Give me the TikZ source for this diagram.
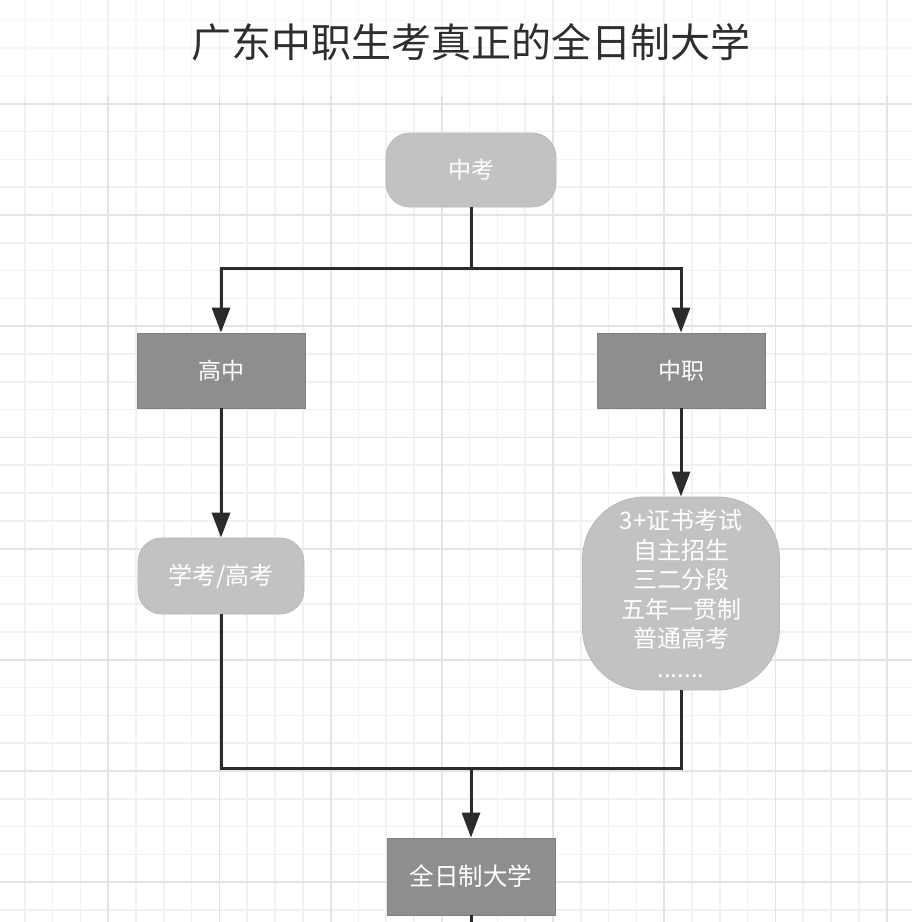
\documentclass[tikz,border=0pt]{standalone}
\usepackage{fontspec}
\setmainfont{Noto Sans CJK SC}
\usetikzlibrary{arrows.meta}
\definecolor{darkfill}{HTML}{8E8E8E}
\definecolor{lightfill}{HTML}{C2C2C2}
\definecolor{linecol}{HTML}{2B2B2B}
\definecolor{minorgrid}{HTML}{F1F1F1}
\definecolor{majorgrid}{HTML}{E4E4E4}
\definecolor{titlecol}{HTML}{2E2E2E}
\tikzset{
  darkbox/.style={draw=darkfill!90!black, line width=0.8pt, fill=darkfill, text=white, minimum width=168pt, minimum height=75pt, inner sep=0pt, font=\fontsize{23}{27}\selectfont},
  lightbox/.style={draw=lightfill!95!black, line width=0.8pt, fill=lightfill, text=white, rounded corners=24pt, inner sep=0pt, font=\fontsize{23}{27}\selectfont},
  conn/.style={draw=linecol, line width=3pt},
  arr/.style={conn, -{Triangle[length=25pt,width=18pt]}},
  minorline/.style={draw=minorgrid, line width=1.5pt},
  majorline/.style={draw=majorgrid, line width=1.8pt}
}
\begin{document}
\begin{tikzpicture}[x=1pt,y=-1pt]
\fill[white] (0,0) rectangle (912,922);
\useasboundingbox (0,0) rectangle (912,922);
% grid
\foreach \i in {0,...,33} {
  \pgfmathsetmacro\xx{-3+27.8*\i}
  \draw[minorline] (\xx,0) -- (\xx,922);
}
\foreach \i in {0,...,32} {
  \pgfmathsetmacro\yy{20.4+27.8*\i}
  \draw[minorline] (0,\yy) -- (912,\yy);
}
\foreach \i in {0,...,8} {
  \pgfmathsetmacro\xx{-3+111.2*\i}
  \draw[majorline] (\xx,0) -- (\xx,922);
}
\foreach \i in {0,...,7} {
  \pgfmathsetmacro\yy{103.8+111.2*\i}
  \draw[majorline] (0,\yy) -- (912,\yy);
}
\fill[white, opacity=0.45] (0,0) rectangle (912,96);
% title
\node[text=titlecol, font=\fontsize{40}{46}\selectfont, inner sep=0pt] (title) at (471,42) {广东中职生考真正的全日制大学};
% nodes
\node[lightbox, minimum width=170pt, minimum height=74pt] (zk) at (471,170) {中考};
\node[darkbox] (gz) at (221,370.5) {高中};
\node[darkbox] (zz) at (681,370.5) {中职};
\node[lightbox, minimum width=166pt, minimum height=76pt, font=\fontsize{24}{28}\selectfont] (xk) at (221,576) {学考/高考};
\node[lightbox, rounded corners=62pt, minimum width=197pt, minimum height=193pt, align=center, font=\fontsize{24}{29.5}\selectfont] (big) at (681,593.5) {3+证书考试\\自主招生\\三二分段\\五年一贯制\\普通高考\\.......};
\node[darkbox, minimum height=77pt, font=\fontsize{24.5}{28}\selectfont] (qr) at (471,876.5) {全日制大学};
% connectors
\coordinate (split) at (471,268);
\coordinate (join) at (471,768);
\coordinate (out) at (471,922);
\draw[conn] (zk.south) -- (split);
\draw[arr] (split) -| (gz.north);
\draw[arr] (split) -| (zz.north);
\draw[arr] (gz.south) -- (xk.north);
\draw[arr] (zz.south) -- (big.north);
\draw[conn] (xk.south) |- (join);
\draw[conn] (big.south) |- (join);
\draw[arr] (join) -- (qr.north);
\draw[conn] (qr.south) -- (out);
\end{tikzpicture}
\end{document}
